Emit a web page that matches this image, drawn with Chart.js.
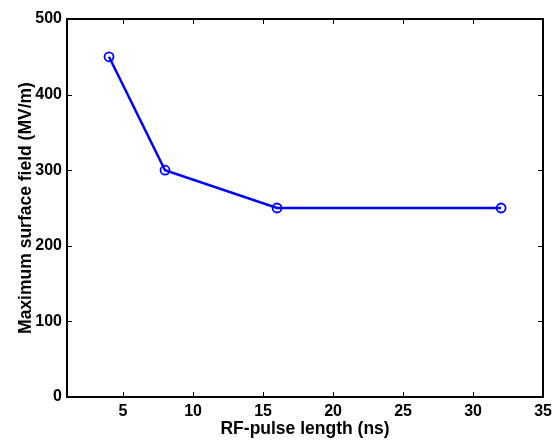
<!DOCTYPE html>
<html>
<head>
<meta charset="utf-8">
<title>Surface field vs pulse length</title>
<script src="https://cdn.jsdelivr.net/npm/chart.js@4"></script>
<style>
	html, body { margin: 0; padding: 0; background: #fff; }
	#wrap { width: 557px; height: 440px; }
</style>
</head>
<body>
<div id="wrap"><canvas id="fieldChart" width="557" height="440"></canvas></div>
<script>
// data
const pulseLength = [4, 8, 16, 32];        // ns
const surfaceField = [450, 300, 250, 250]; // MV/m

const xTicks = [5, 10, 15, 20, 25, 30, 35];
const yTicks = [0, 100, 200, 300, 400, 500];

const fontFamily = "'Liberation Sans', Arial, Helvetica, sans-serif";

// box around the axes with inward tick marks, like a matlab figure
const boxTicks = {
	id: 'boxTicks',
	afterDraw(chart) {
		const ctx = chart.ctx;
		const area = chart.chartArea;
		const xs = chart.scales.x;
		const ys = chart.scales.y;
		const len = 5;
		ctx.save();
		ctx.strokeStyle = '#000';
		ctx.lineWidth = 1;
		ctx.beginPath();
		xTicks.forEach(v => {
			const px = Math.round(xs.getPixelForValue(v)) + 0.5;
			ctx.moveTo(px, area.bottom);
			ctx.lineTo(px, area.bottom - len);
			ctx.moveTo(px, area.top);
			ctx.lineTo(px, area.top + len);
		});
		yTicks.forEach(v => {
			const py = Math.round(ys.getPixelForValue(v)) + 0.5;
			ctx.moveTo(area.left, py);
			ctx.lineTo(area.left + len, py);
			ctx.moveTo(area.right, py);
			ctx.lineTo(area.right - len, py);
		});
		ctx.stroke();
		ctx.lineWidth = 2;
		ctx.strokeRect(Math.round(area.left), Math.round(area.top),
			Math.round(area.right - area.left), Math.round(area.bottom - area.top));
		ctx.restore();
	}
};

document.addEventListener('DOMContentLoaded', function() {

	createLineChart();

});

function createLineChart() {

	const ctx = document.getElementById('fieldChart').getContext('2d');

	new Chart(ctx, {

		type: 'line',

		data: {

			datasets: [{

				data: pulseLength.map((x, i) => ({ x: x, y: surfaceField[i] })),

				borderColor: '#0000ff',

				borderWidth: 2.5,

				pointStyle: 'circle',

				pointRadius: 4.5,

				pointBorderWidth: 1.8,

				pointBorderColor: '#0000ff',

				pointBackgroundColor: 'rgba(0,0,0,0)',

				tension: 0

			}]

		},

		options: {

			responsive: false,

			animation: false,

			layout: {
				padding: { top: 19, right: 10, left: 0, bottom: 0 }
			},

			plugins: {
				legend: { display: false },
				tooltip: { enabled: false }
			},

			scales: {

				x: {
					type: 'linear',
					min: 1,
					max: 35,
					afterBuildTicks: scale => { scale.ticks = xTicks.map(v => ({ value: v })); },
					afterFit: scale => { scale.height = 43; },
					grid: { display: false, drawTicks: false },
					border: { display: false },
					ticks: {
						color: '#000',
						padding: 5,
						maxRotation: 0,
						font: { family: fontFamily, size: 16, weight: 'bold' }
					},
					title: {
						display: true,
						text: 'RF-pulse length (ns)',
						color: '#000',
						padding: { top: 0, bottom: 0 },
						font: { family: fontFamily, size: 17.5, weight: 'bold' }
					}
				},

				y: {
					min: 0,
					max: 500,
					afterBuildTicks: scale => { scale.ticks = yTicks.map(v => ({ value: v })); },
					afterFit: scale => { scale.width = 67; },
					grid: { display: false, drawTicks: false },
					border: { display: false },
					ticks: {
						color: '#000',
						padding: 5,
						font: { family: fontFamily, size: 16, weight: 'bold' }
					},
					title: {
						display: true,
						text: 'Maximum surface field (MV/m)',
						color: '#000',
						padding: { top: 16, bottom: 0 },
						font: { family: fontFamily, size: 17.5, weight: 'bold' }
					}
				}

			}

		},

		plugins: [boxTicks]

	});

}
</script>
</body>
</html>
